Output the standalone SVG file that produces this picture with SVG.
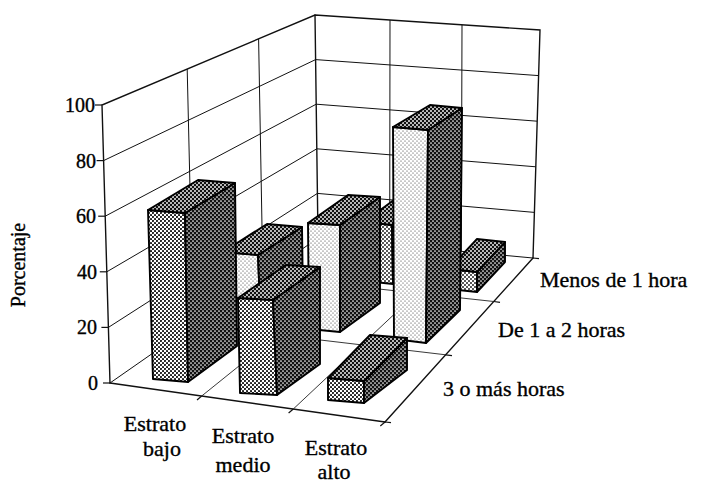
<svg xmlns="http://www.w3.org/2000/svg" width="701" height="485" viewBox="0 0 701 485">
<defs>
<pattern id="pSide" patternUnits="userSpaceOnUse" width="4" height="4">
<rect width="4" height="4" fill="#111"/>
<circle cx="1" cy="1" r="0.85" fill="#fff"/>
<circle cx="3" cy="3" r="0.85" fill="#fff"/>
</pattern>
<pattern id="pTop" patternUnits="userSpaceOnUse" width="4" height="4">
<rect width="4" height="4" fill="#111"/>
<circle cx="1" cy="1" r="0.95" fill="#fff"/>
<circle cx="3" cy="3" r="0.95" fill="#fff"/>
</pattern>
<pattern id="pFront3" patternUnits="userSpaceOnUse" width="4" height="4">
<rect width="4" height="4" fill="#fff"/>
<circle cx="1" cy="1" r="1.05" fill="#111"/>
<circle cx="3" cy="3" r="1.05" fill="#111"/>
</pattern>
<pattern id="pFront2" patternUnits="userSpaceOnUse" width="4" height="4">
<rect width="4" height="4" fill="#fff"/>
<circle cx="1" cy="1" r="0.55" fill="#222"/>
<circle cx="3" cy="3" r="0.55" fill="#222"/>
</pattern>
<pattern id="pFront1" patternUnits="userSpaceOnUse" width="4" height="4">
<rect width="4" height="4" fill="#fff"/>
<circle cx="1" cy="1" r="0.95" fill="#111"/>
<circle cx="3" cy="3" r="0.95" fill="#111"/>
</pattern>
</defs>
<style>
.edge{stroke:#111;stroke-width:1.4;fill:none;stroke-linecap:round}
.grid{stroke:#111;stroke-width:1;fill:none}
.fgrid{stroke:#222;stroke-width:0.9;fill:none}
.tick{stroke:#111;stroke-width:1.2;fill:none}
.bar polygon{stroke:#000;stroke-width:1.9;stroke-linejoin:round}
.side{fill:url(#pSide)}
.top{fill:url(#pTop)}
.f3{fill:url(#pFront3)}
.f2{fill:url(#pFront2)}
.f1{fill:url(#pFront1)}
text{font-family:"Liberation Serif","Times New Roman",serif;fill:#000;stroke:#000;stroke-width:0.35}
.tl{font-size:20px;text-anchor:end}
.lab{font-size:22px}
.cat{font-size:22px;text-anchor:middle}
</style>
<rect width="701" height="485" fill="#fff"/>
<g id="walls">
<g id="left-wall">
<line class="grid" x1="108.4" y1="327.4" x2="317.4" y2="193.4"/>
<line class="grid" x1="106.8" y1="271.8" x2="316.8" y2="148.8"/>
<line class="grid" x1="105.2" y1="216.2" x2="316.2" y2="104.2"/>
<line class="grid" x1="103.6" y1="160.6" x2="315.6" y2="59.6"/>
<line class="grid" x1="187.2" y1="69" x2="193.2" y2="325"/>
<line class="grid" x1="258.6" y1="38.9" x2="262.9" y2="276.4"/>
</g>
<g id="back-wall">
<line class="grid" x1="317.4" y1="193.4" x2="534.4" y2="212.4"/>
<line class="grid" x1="316.8" y1="148.8" x2="535.8" y2="166.8"/>
<line class="grid" x1="316.2" y1="104.2" x2="537.2" y2="121.2"/>
<line class="grid" x1="315.6" y1="59.6" x2="538.6" y2="75.6"/>
<line class="grid" x1="390" y1="20" x2="389.7" y2="244.7"/>
<line class="grid" x1="462" y1="25" x2="461.3" y2="251.3"/>
</g>
<g id="floor">
<line class="fgrid" x1="201.7" y1="396" x2="389.7" y2="244.7"/>
<line class="fgrid" x1="293.3" y1="409" x2="461.3" y2="251.3"/>
<line class="fgrid" x1="193.2" y1="325" x2="445.7" y2="354.8"/>
<line class="fgrid" x1="262.9" y1="276.4" x2="493.8" y2="301.5"/>
</g>
<g id="frame">
<polyline class="edge" points="110,383 102,105 315,15 540,30 533,258"/>
<line class="edge" x1="315" y1="15" x2="318" y2="238"/>
<line class="grid" x1="318" y1="238" x2="533" y2="258"/>
<line class="grid" x1="110" y1="383" x2="318" y2="238"/>
<line class="edge" x1="110" y1="383" x2="385" y2="422"/>
<line class="edge" x1="385" y1="422" x2="533" y2="258"/>
</g>
<g id="ticks">
<line class="tick" x1="103" y1="383" x2="110" y2="383"/>
<line class="tick" x1="101.4" y1="327.4" x2="108.4" y2="327.4"/>
<line class="tick" x1="99.8" y1="271.8" x2="106.8" y2="271.8"/>
<line class="tick" x1="98.2" y1="216.2" x2="105.2" y2="216.2"/>
<line class="tick" x1="96.6" y1="160.6" x2="103.6" y2="160.6"/>
<line class="tick" x1="95" y1="105" x2="102" y2="105"/>
<line class="tick" x1="201.7" y1="396" x2="197" y2="400"/>
<line class="tick" x1="293.3" y1="409" x2="288.6" y2="413"/>
<line class="tick" x1="385" y1="422" x2="380.3" y2="426"/>
<line class="tick" x1="385" y1="422" x2="391" y2="422.7"/>
<line class="tick" x1="445.7" y1="354.8" x2="452" y2="355.6"/>
<line class="tick" x1="493.8" y1="301.5" x2="500" y2="302.3"/>
<line class="tick" x1="533" y1="258" x2="539" y2="258.7"/>
</g>
</g>
<g id="bars">
<g id="bar-medio-menos" class="bar">
<polygon class="f1" points="364,222 392,225 393,284 365,281"/>
<polygon class="side" points="392,225 430,197 431,258 393,284"/>
<polygon class="top" points="364,222 402,194 430,197 392,225"/>
</g>
<g id="bar-alto-menos" class="bar">
<polygon class="f1" points="449,269 477,272 477,292 449,289"/>
<polygon class="side" points="477,272 505,242 505,262 477,292"/>
<polygon class="top" points="449,269 477,239 505,242 477,272"/>
</g>
<g id="bar-bajo-1a2" class="bar">
<polygon class="f2" points="223,252 258,255 261,331 226,328"/>
<polygon class="side" points="258,255 302,227 303,300 261,331"/>
<polygon class="top" points="223,252 267,224 302,227 258,255"/>
</g>
<g id="bar-medio-1a2" class="bar">
<polygon class="f2" points="308,223 340,225 340,332 309,329"/>
<polygon class="side" points="340,225 380,197 380,303 340,332"/>
<polygon class="top" points="308,223 348,195 380,197 340,225"/>
</g>
<g id="bar-alto-1a2" class="bar">
<polygon class="f2" points="393,127 428,130 426,343 394,339"/>
<polygon class="side" points="428,130 462,108 460,310 426,343"/>
<polygon class="top" points="393,127 430,105 462,108 428,130"/>
</g>
<g id="bar-bajo-3mas" class="bar">
<polygon class="f3" points="148,210 185,213 188,382 153,379"/>
<polygon class="side" points="185,213 235,183 237,346 188,382"/>
<polygon class="top" points="148,210 198,180 235,183 185,213"/>
</g>
<g id="bar-medio-3mas" class="bar">
<polygon class="f3" points="238,298 273,300 277,395 240,393"/>
<polygon class="side" points="273,300 320,267 320,364 277,395"/>
<polygon class="top" points="238,298 286,265 320,267 273,300"/>
</g>
<g id="bar-alto-3mas" class="bar">
<polygon class="f3" points="328,378 364,381 364,403 328,400"/>
<polygon class="side" points="364,381 407,338 407,370 364,403"/>
<polygon class="top" points="328,378 370,335 407,338 364,381"/>
</g>
</g>
<g id="labels">
<text class="tl" x="95" y="112">100</text>
<text class="tl" x="96" y="167.5">80</text>
<text class="tl" x="96" y="223">60</text>
<text class="tl" x="97" y="278.5">40</text>
<text class="tl" x="97" y="334">20</text>
<text class="tl" x="98" y="390">0</text>
<text font-size="20" text-anchor="middle" transform="translate(25,265) rotate(-90)">Porcentaje</text>
<text class="cat" x="155" y="431">Estrato</text>
<text class="cat" x="162" y="456">bajo</text>
<text class="cat" x="243" y="443">Estrato</text>
<text class="cat" x="243" y="472">medio</text>
<text class="cat" x="336" y="455">Estrato</text>
<text class="cat" x="334" y="479">alto</text>
<text class="lab" x="540" y="287">Menos de 1 hora</text>
<text class="lab" x="498" y="337">De 1 a 2 horas</text>
<text class="lab" x="443" y="396">3 o más horas</text>
</g>
</svg>
